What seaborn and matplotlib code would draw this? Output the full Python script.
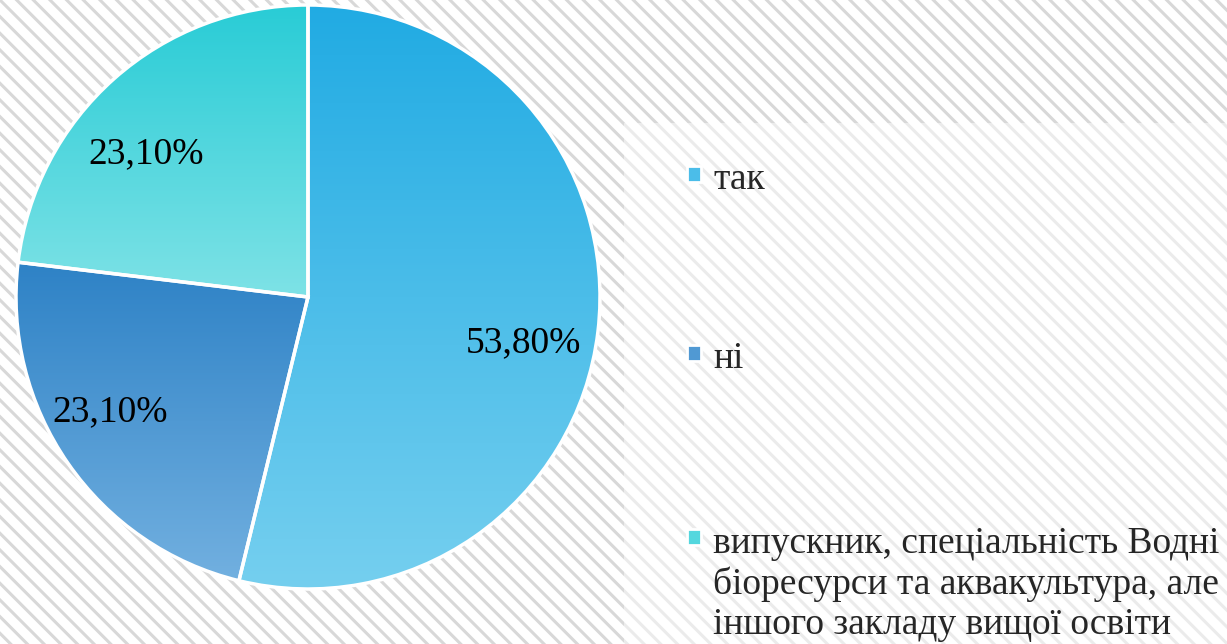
import numpy as np
import matplotlib
matplotlib.use("Agg")
from matplotlib import pyplot as plt
from matplotlib.patches import Rectangle
import seaborn as sns

sns.set_theme(style='white')
plt.rcParams['font.family'] = ['Liberation Serif', 'DejaVu Serif']
plt.rcParams['hatch.linewidth'] = 2.2

# data
categories = ['так', 'ні',
              'випускник, спеціальність Водні\nбіоресурси та аквакультура, але\nіншого закладу вищої освіти']
shares = [53.8, 23.1, 23.1]
top_colors = ['#21abe3', '#2e82c6', '#29ccd6']
bottom_colors = ['#75cfef', '#72b0e0', '#7ee2e6']

W, H = 1227, 644
fig = plt.figure(figsize=(W / 100, H / 100), dpi=100)

def px(x, y):
    return x / W, 1 - y / H

# hatched background
fig.add_artist(Rectangle((0, 0), 1, 1, transform=fig.transFigure, facecolor='white',
                         edgecolor='#d8d8d8', hatch='\\\\', linewidth=0, zorder=-10))
x0, y0 = px(624, 644)
fig.add_artist(Rectangle((x0, y0), 1 - x0, 1 - 123 / H - y0, transform=fig.transFigure,
                         facecolor='white', alpha=0.5, linewidth=0, zorder=-9))

# pie
cx, cy, r = 308, 297, 292
ax = fig.add_axes([(cx - r) / W, (H - cy - r) / H, 2 * r / W, 2 * r / H])

def fmt(p):
    return '{:.2f}%'.format(p).replace('.', ',')

wedges, labels, pcts = ax.pie(shares, startangle=90, counterclock=False, radius=1,
                              autopct=fmt, pctdistance=0.76,
                              wedgeprops=dict(edgecolor='white', linewidth=2.5),
                              textprops=dict(fontsize=27, color='black'))

# nudge the labels (pixels, y downwards) to where the original puts them
nudges = [(-5, 20), (-16, -12), (-15, 23)]
for t, (dx, dy) in zip(pcts, nudges):
    x, y = t.get_position()
    t.set_position((x + dx / r, y - dy / r))

# vertical gradient fill inside each wedge
for w, c_top, c_bot in zip(wedges, top_colors, bottom_colors):
    ext = w.get_path().get_extents()
    grad = np.array(sns.blend_palette([c_top, c_bot], n_colors=256))[:, None, :]
    im = ax.imshow(grad, extent=(ext.x0, ext.x1, ext.y0, ext.y1), origin='upper',
                   aspect='auto', zorder=0.5)
    im.set_clip_path(w)
    w.set_facecolor('none')
ax.set_xlim(-1, 1)
ax.set_ylim(-1, 1)

# legend drawn by hand at the right
legend_y = [189, 368, 552]
line_h = 41
for lab, c_top, c_bot, yb in zip(categories, top_colors, bottom_colors, legend_y):
    mid = sns.blend_palette([c_top, c_bot], n_colors=3)[1]
    mx, my = px(687, yb - 7)
    fig.add_artist(Rectangle((mx, my), 14 / W, 16 / H, transform=fig.transFigure,
                             facecolor=mid, edgecolor='white', linewidth=2))
    n = lab.count('\n')
    tx, ty = px(713, yb + n * line_h)
    fig.text(tx, ty, lab, fontsize=27, va='baseline', ha='left', linespacing=1.2)

fig.savefig('out.png', dpi=100)
